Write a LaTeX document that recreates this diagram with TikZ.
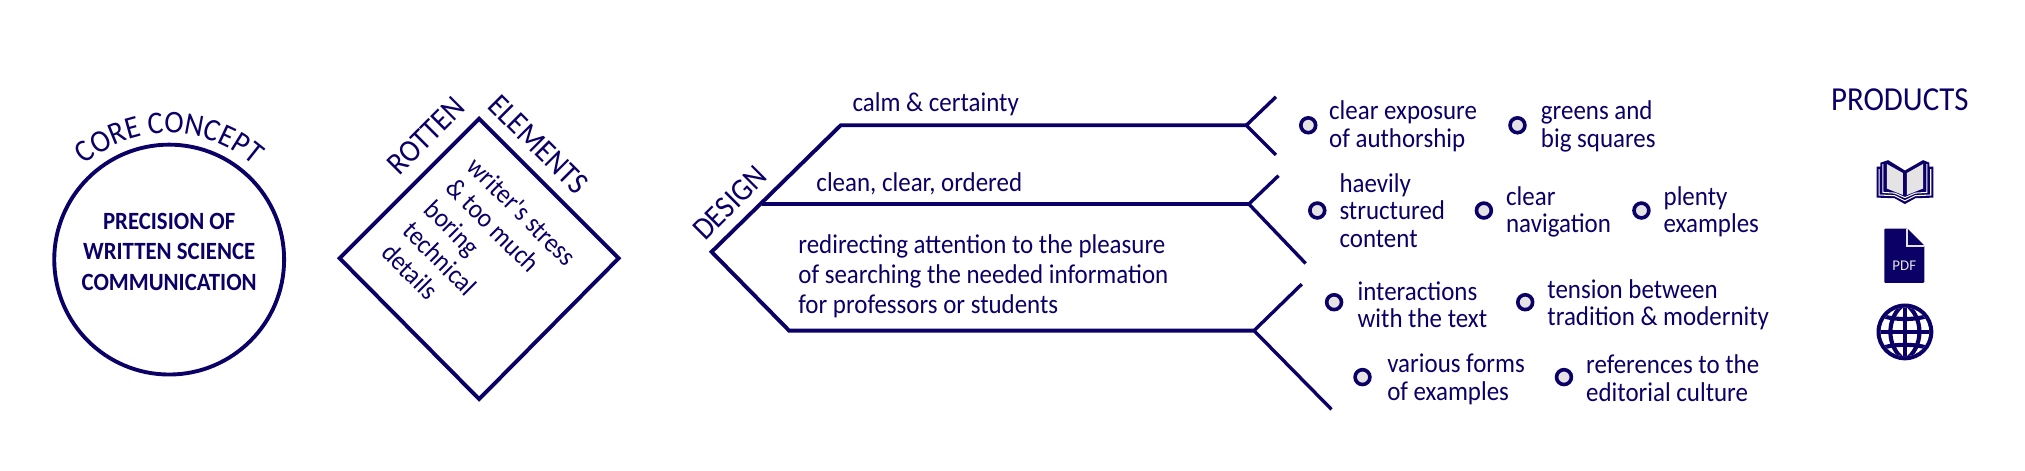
\documentclass[tikz,border=0pt]{standalone}
\usepackage{fontspec}
\setmainfont{Carlito}
\newfontfamily\narrowf[FakeStretch=0.92]{Carlito}
\usetikzlibrary{decorations.text}
\definecolor{navy}{HTML}{0B0066}
\definecolor{pale}{HTML}{E5E3E3}
\tikzset{
  x=1pt,y=-1pt,
  line/.style={draw=navy,line width=3pt,line join=miter},
  thinline/.style={draw=navy,line width=2.6pt},
  lab/.style={text=navy,font=\narrowf\fontsize{21}{23.5}\selectfont,align=left,inner sep=0pt},
  item/.style={lab,anchor=west,font=\narrowf\fontsize{21}{21.5}\selectfont},
  head/.style={text=navy,font=\narrowf\fontsize{24.5}{27}\selectfont,inner sep=0pt},
  core/.style={text=navy,font=\narrowf\bfseries\fontsize{19.2}{23.5}\selectfont,align=center,inner sep=0pt},
  bull/.style={circle,draw=navy,fill=pale,line width=2.8pt,minimum size=11.5pt,inner sep=0pt},
}
\begin{document}
\begin{tikzpicture}
\useasboundingbox (0,0) rectangle (1568,364.7);
% core concept
\node[circle,draw=navy,line width=3pt,minimum size=178pt,inner sep=0pt] (circ) at (131,201) {};
\node[core] (ct) at (131,195) {PRECISION OF\\WRITTEN SCIENCE\\COMMUNICATION};
\path[postaction={decorate,decoration={text along path,text align=center,
  text={|\narrowf\fontsize{24.5}{27}\selectfont\color{navy}|CORE CONCEPT}}}]
  (131,201) ++(-155:98) arc[start angle=-155,end angle=-25,radius=98];
% diamond
\coordinate (dt) at (371,92); \coordinate (dl) at (263,200);
\coordinate (db) at (371,309); \coordinate (dr) at (479,200);
\draw[line] (dt)--(dr)--(db)--(dl)--cycle;
\node[head,rotate=45] (rot) at (330,105) {ROTTEN};
\node[head,rotate=-45] (ele) at (417,112) {ELEMENTS};
\node[lab,rotate=-45] (dtx) at (371,197) {writer's stress\\\& too much\\boring\\technical\\details};
% design
\coordinate (a1) at (651,97); \coordinate (a2) at (965,97);
\coordinate (a3) at (988,75); \coordinate (a4) at (988,120);
\coordinate (b1) at (590,158); \coordinate (b2) at (967,158);
\coordinate (b3) at (990,136); \coordinate (b4) at (1011,204);
\coordinate (c0) at (551,195);
\coordinate (c1) at (611,256); \coordinate (c2) at (971,256);
\coordinate (c3) at (1008,220); \coordinate (c4) at (1031,317);
\draw[line] (a2)--(a1)--(c0)--(c1)--(c2);
\draw[line] (b1)--(b2);
\draw[thinline] (a3)--(a2)--(a4);
\draw[thinline] (b3)--(b2)--(b4);
\draw[thinline] (c3)--(c2)--(c4);
\node[head,rotate=45] (des) at (565,157) {DESIGN};
\node[lab,anchor=west] (t1) at (660,81) {calm \& certainty};
\node[lab,anchor=west] (t2) at (632,142) {clean, clear, ordered};
\node[lab,anchor=west] (t3) at (618,214) {redirecting attention to the pleasure\\of searching the needed information\\for professors or students};
% bullets
\node[bull] (b11) at (1013,97) {};
\node[item] (l11) at (1029,98) {clear exposure\\of authorship};
\node[bull] (b12) at (1175,97) {};
\node[item] (l12) at (1193,98) {greens and\\big squares};
\node[bull] (b21) at (1020,163) {};
\node[item] (l21) at (1037,163) {haevily\\structured\\content};
\node[bull] (b22) at (1149,163) {};
\node[item] (l22) at (1166,164) {clear\\navigation};
\node[bull] (b23) at (1271,163) {};
\node[item] (l23) at (1288,164) {plenty\\examples};
\node[bull] (b31) at (1033,234) {};
\node[item] (l31) at (1051,236) {interactions\\with the text};
\node[bull] (b32) at (1181,234) {};
\node[item] (l32) at (1198,236) {tension between\\tradition \& modernity};
\node[bull] (b41) at (1055,292) {};
\node[item] (l41) at (1074,294) {various forms\\of examples};
\node[bull] (b42) at (1211,292) {};
\node[item] (l42) at (1228,293) {references to the\\editorial culture};
% products
\node[head,font=\narrowf\fontsize{26}{27}\selectfont] (prod) at (1471,77) {PRODUCTS};
% book icon
\fill[navy] (1453,129) -- (1456,129) -- (1456,126) -- (1462,124) -- (1475,132) -- (1489,124) -- (1494,126) -- (1494,129) -- (1497,129) -- (1497,153) -- (1483,153.5) -- (1475,158) -- (1467,153.5) -- (1453,153) -- cycle;
\draw[white,line width=.8pt] (1455,131) -- (1455,151) -- (1467,151.5) -- (1475,155.5) -- (1483,151.5) -- (1495,151) -- (1495,131);
\draw[white,line width=.8pt] (1458,127) -- (1458,149) -- (1467,149.5) -- (1475,153) -- (1483,149.5) -- (1492,149) -- (1492,127);
\fill[pale] (1461,127) -- (1473.5,134) -- (1473.5,151) -- (1461,146) -- cycle;
\fill[pale] (1489,127) -- (1476.5,134) -- (1476.5,151) -- (1489,146) -- cycle;
% pdf icon
\fill[navy,rounded corners=.8pt] (1459,177) -- (1477,177) -- (1490,190) -- (1490,219) -- (1459,219) -- cycle;
\draw[pale,line width=1pt] (1476.5,177) -- (1476.5,190.5) -- (1490,190.5);
\node[inner sep=0pt,text=pale,font=\fontsize{11.5}{12}\selectfont] (pdf) at (1474.5,206) {PDF};
% globe icon
\fill[navy] (1475,257) circle (22);
\begin{scope}
\clip (1475,257) circle (18.8);
\fill[white] (1453,235) rectangle (1497,279);
\draw[navy,line width=3.2pt] (1475,235) -- (1475,279);
\draw[navy,line width=3.2pt] (1475,235) .. controls (1460,245) and (1460,269) .. (1475,279);
\draw[navy,line width=3.2pt] (1475,235) .. controls (1490,245) and (1490,269) .. (1475,279);
\draw[navy,line width=3.2pt] (1453,257) -- (1497,257);
\draw[navy,line width=3.2pt] (1456,244) .. controls (1465,248) and (1485,248) .. (1494,244);
\draw[navy,line width=3.2pt] (1456,270) .. controls (1465,266) and (1485,266) .. (1494,270);
\end{scope}
\end{tikzpicture}
\end{document}
